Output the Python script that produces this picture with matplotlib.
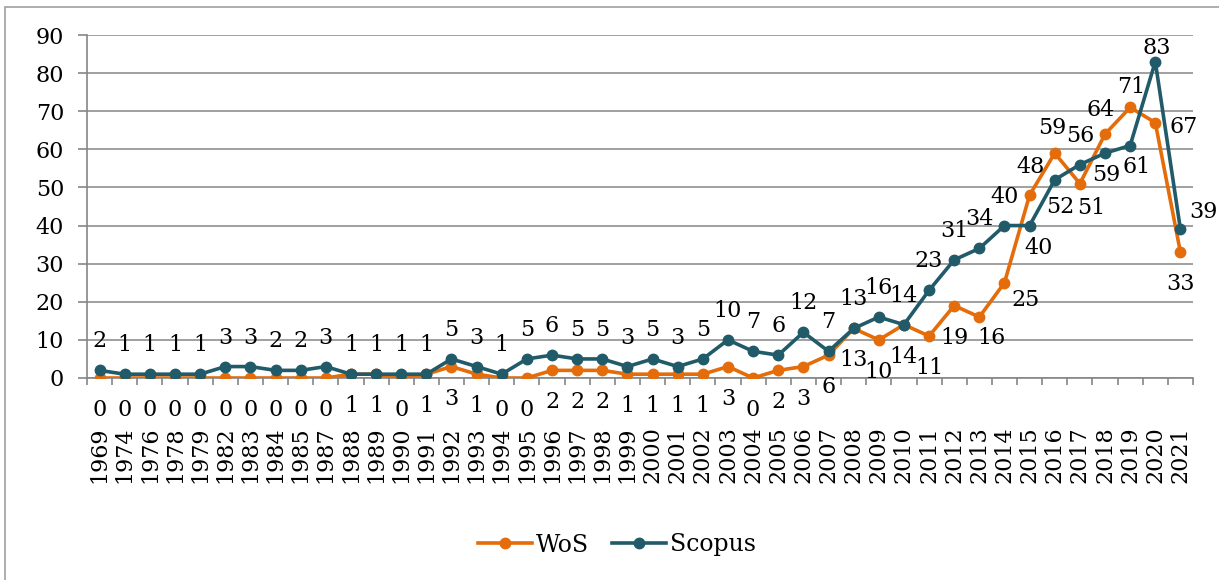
import numpy as np
import matplotlib.pyplot as plt
from matplotlib.patches import Rectangle

years = ['1969', '1974', '1976', '1978', '1979', '1982', '1983', '1984', '1985', '1987',
         '1988', '1989', '1990', '1991', '1992', '1993', '1994', '1995', '1996', '1997',
         '1998', '1999', '2000', '2001', '2002', '2003', '2004', '2005', '2006', '2007',
         '2008', '2009', '2010', '2011', '2012', '2013', '2014', '2015', '2016', '2017',
         '2018', '2019', '2020', '2021']
wos = [0, 0, 0, 0, 0, 0, 0, 0, 0, 0, 1, 1, 0, 1, 3, 1, 0, 0, 2, 2,
       2, 1, 1, 1, 1, 3, 0, 2, 3, 6, 13, 10, 14, 11, 19, 16, 25, 48, 59, 51,
       64, 71, 67, 33]
scopus = [2, 1, 1, 1, 1, 3, 3, 2, 2, 3, 1, 1, 1, 1, 5, 3, 1, 5, 6, 5,
          5, 3, 5, 3, 5, 10, 7, 6, 12, 7, 13, 16, 14, 23, 31, 34, 40, 40, 52, 56,
          59, 61, 83, 39]

c_wos = '#E46C0A'
c_scopus = '#215B69'
grey = '#868686'

# przesunięcia etykiet danych w pikselach (dx, dy w dół)
scopus_off = {'2015': (9, 22), '2016': (6, 27), '2018': (1, 22), '2019': (6, 21),
              '2020': (1, -14), '2021': (23, -17)}
wos_off = {'2013': (12, 21), '2014': (21, 17), '2015': (1, -28), '2016': (-2, -25),
           '2017': (11, 24), '2018': (-4, -24), '2019': (1, -20), '2020': (28, 4)}

plt.rcParams['font.family'] = ['DejaVu Serif']
fs = 16

fig = plt.figure(figsize=(12.19, 5.80), dpi=100)
ax = fig.add_axes([87 / 1219, 1 - 378 / 580, (1193 - 87) / 1219, (378 - 35) / 580])

x = np.arange(len(years))
ax.plot(x, wos, color=c_wos, lw=2.6, marker='o', ms=7.5, label='WoS', zorder=3)
ax.plot(x, scopus, color=c_scopus, lw=2.6, marker='o', ms=7.5, label='Scopus', zorder=4)

px = 0.72
for i, y in enumerate(years):
    dx, dy = scopus_off.get(y, (0, -29))
    ax.annotate(str(scopus[i]), (i, scopus[i]), xytext=(dx * px, -dy * px),
                textcoords='offset points', ha='center', va='center', fontsize=fs,
                annotation_clip=False)
    dx, dy = wos_off.get(y, (0, 32))
    ax.annotate(str(wos[i]), (i, wos[i]), xytext=(dx * px, -dy * px),
                textcoords='offset points', ha='center', va='center', fontsize=fs,
                annotation_clip=False)

ax.set_xlim(-0.5, len(years) - 0.5)
ax.set_ylim(0, 90)
ax.set_yticks(range(0, 91, 10))
ax.yaxis.grid(True, color=grey, lw=1.1)
ax.set_axisbelow(True)

for s in ['top', 'right']:
    ax.spines[s].set_visible(False)
for s in ['left', 'bottom']:
    ax.spines[s].set_color(grey)
    ax.spines[s].set_linewidth(1.2)

ax.tick_params(axis='y', length=6.5, width=1.2, color=grey, pad=10, labelsize=fs)
ax.set_xticks(x)
ax.set_xticklabels(years, rotation=90, va='top', fontsize=fs)
ax.tick_params(axis='x', which='major', length=0, pad=35)
ax.set_xticks(np.arange(len(years) + 1) - 0.5, minor=True)
ax.tick_params(axis='x', which='minor', length=5, width=1.2, color=grey)

fig.legend(loc='center', bbox_to_anchor=(0.506, 1 - 545 / 580), ncol=2, frameon=False,
           fontsize=17, handlelength=2.3, columnspacing=1.0, handletextpad=0.15)

fig.patches.append(Rectangle((5 / 1219, -0.1), 1.2, 1 - 7 / 580 + 0.1, transform=fig.transFigure,
                             fill=False, edgecolor='#A0A0A0', lw=1.2))

fig.savefig('out.png', dpi=100)
